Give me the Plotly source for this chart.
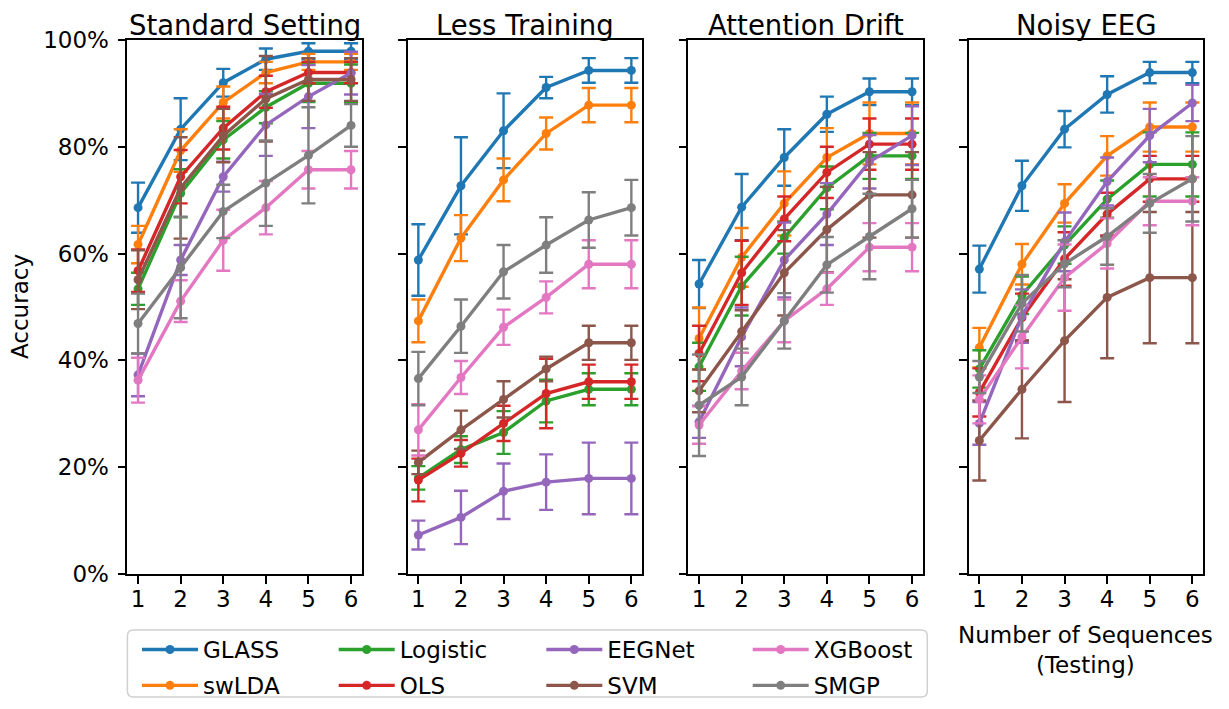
import plotly.graph_objects as go

# ---------------- data ----------------
sequences = [1, 2, 3, 4, 5, 6]
panel_titles = ["Standard Setting", "Less Training", "Attention Drift", "Noisy EEG"]
methods = ["GLASS", "swLDA", "Logistic", "OLS", "EEGNet", "SVM", "XGBoost", "SMGP"]
y_tick_vals = [0, 20, 40, 60, 80, 100]
y_tick_text = ["0%", "20%", "40%", "60%", "80%", "100%"]

# Standard Setting
std_GLASS = [68.6, 83.3, 92.0, 96.4, 97.9, 97.9]
std_GLASS_err = [4.7, 5.8, 2.6, 2.0, 1.5, 1.5]
std_swLDA = [61.7, 79.3, 88.3, 93.9, 95.9, 95.9]
std_swLDA_err = [3.5, 4.0, 3.0, 2.0, 1.5, 1.5]
std_Logistic = [53.4, 71.3, 81.3, 87.4, 91.9, 91.9]
std_Logistic_err = [3.0, 4.5, 3.5, 3.0, 3.5, 3.5]
std_OLS = [56.8, 74.4, 83.5, 90.3, 93.9, 93.9]
std_OLS_err = [4.0, 5.0, 4.0, 3.0, 2.0, 2.0]
std_EEGNet = [37.3, 58.8, 74.4, 84.1, 89.4, 93.8]
std_EEGNet_err = [4.0, 2.8, 2.8, 5.8, 5.9, 4.0]
std_SVM = [55.1, 72.3, 82.1, 89.0, 92.6, 92.6]
std_SVM_err = [5.5, 9.5, 5.0, 8.0, 4.0, 4.0]
std_XGBoost = [36.3, 51.1, 62.5, 68.6, 75.7, 75.7]
std_XGBoost_err = [4.2, 3.9, 5.7, 5.0, 3.5, 3.5]
std_SMGP = [46.9, 57.4, 67.9, 73.2, 78.4, 84.0]
std_SMGP_err = [5.6, 9.5, 5.0, 8.0, 9.0, 4.0]

# Less Training
less_GLASS = [58.8, 72.7, 83.0, 91.1, 94.3, 94.3]
less_GLASS_err = [6.7, 9.1, 7.0, 2.0, 2.3, 2.3]
less_swLDA = [47.4, 62.9, 73.8, 82.5, 87.8, 87.8]
less_swLDA_err = [4.0, 4.3, 4.0, 3.0, 3.2, 3.2]
less_Logistic = [18.0, 23.3, 26.5, 32.4, 34.6, 34.6]
less_Logistic_err = [2.2, 2.5, 4.0, 4.0, 3.0, 3.0]
less_OLS = [17.6, 22.6, 28.2, 33.8, 36.0, 36.0]
less_OLS_err = [4.0, 2.5, 3.3, 6.5, 3.2, 3.2]
less_EEGNet = [7.3, 10.6, 15.5, 17.2, 17.9, 17.9]
less_EEGNet_err = [2.7, 5.0, 5.2, 5.2, 6.7, 6.7]
less_SVM = [20.9, 27.0, 32.7, 38.4, 43.3, 43.3]
less_SVM_err = [2.2, 3.6, 3.4, 2.3, 3.2, 3.2]
less_XGBoost = [27.0, 36.8, 46.2, 51.8, 58.0, 58.0]
less_XGBoost_err = [4.8, 3.1, 3.3, 3.0, 4.5, 4.5]
less_SMGP = [36.6, 46.4, 56.6, 61.6, 66.3, 68.6]
less_SMGP_err = [5.0, 5.0, 5.0, 5.2, 5.2, 5.2]

# Attention Drift
drift_GLASS = [54.3, 68.7, 78.0, 86.1, 90.3, 90.3]
drift_GLASS_err = [4.5, 6.2, 5.3, 3.3, 2.5, 2.5]
drift_swLDA = [44.1, 59.3, 69.4, 78.0, 82.5, 82.5]
drift_swLDA_err = [5.8, 5.5, 6.0, 5.5, 5.8, 5.8]
drift_Logistic = [38.8, 53.9, 63.0, 72.3, 78.3, 78.3]
drift_Logistic_err = [4.5, 5.5, 3.0, 4.0, 4.3, 4.3]
drift_OLS = [41.3, 56.4, 66.5, 75.2, 80.5, 80.5]
drift_OLS_err = [5.2, 6.0, 4.2, 4.8, 4.8, 4.8]
drift_EEGNet = [28.5, 44.4, 58.8, 67.4, 77.2, 82.1]
drift_EEGNet_err = [3.0, 5.5, 7.0, 5.8, 5.0, 5.5]
drift_SVM = [34.3, 45.4, 56.4, 64.5, 71.0, 71.0]
drift_SVM_err = [4.0, 4.0, 8.0, 8.0, 8.0, 8.0]
drift_XGBoost = [27.9, 38.0, 47.4, 53.4, 61.2, 61.2]
drift_XGBoost_err = [3.5, 3.4, 4.0, 3.0, 4.5, 4.5]
drift_SMGP = [31.6, 36.9, 47.4, 57.9, 63.2, 68.4]
drift_SMGP_err = [9.5, 5.3, 5.2, 5.2, 8.0, 5.4]

# Noisy EEG
noisy_GLASS = [57.1, 72.7, 83.3, 89.8, 93.9, 93.9]
noisy_GLASS_err = [4.4, 4.7, 3.4, 3.4, 2.0, 2.0]
noisy_swLDA = [42.4, 58.0, 69.4, 78.3, 83.7, 83.7]
noisy_swLDA_err = [3.7, 3.8, 3.6, 3.7, 4.6, 4.6]
noisy_Logistic = [38.4, 52.2, 61.6, 70.2, 76.7, 76.7]
noisy_Logistic_err = [3.5, 3.5, 3.5, 3.5, 6.0, 6.0]
noisy_OLS = [34.0, 48.0, 59.0, 67.4, 74.0, 74.0]
noisy_OLS_err = [4.5, 4.5, 5.0, 4.0, 4.3, 4.3]
noisy_EEGNet = [28.2, 48.3, 62.2, 73.5, 82.1, 88.2]
noisy_EEGNet_err = [4.0, 5.0, 5.5, 4.5, 5.0, 3.4]
noisy_SVM = [25.0, 34.6, 43.7, 51.8, 55.5, 55.5]
noisy_SVM_err = [7.5, 9.2, 11.5, 11.4, 12.3, 12.3]
noisy_XGBoost = [32.7, 44.4, 55.5, 61.9, 69.8, 69.8]
noisy_XGBoost_err = [4.5, 5.9, 6.2, 4.7, 4.5, 4.5]
noisy_SMGP = [36.9, 50.7, 58.1, 63.2, 69.4, 74.0]
noisy_SMGP_err = [3.0, 5.3, 4.4, 5.3, 5.5, 8.0]

# ---------------- assemble ----------------
g = globals()
prefixes = ["std", "less", "drift", "noisy"]
means = [[g[f"{p}_{m}"] for m in methods] for p in prefixes]
errs = [[g[f"{p}_{m}_err"] for m in methods] for p in prefixes]

colors = {
    "GLASS": "#1f77b4", "swLDA": "#ff7f0e", "Logistic": "#2ca02c", "OLS": "#d62728",
    "EEGNet": "#9467bd", "SVM": "#8c564b", "XGBoost": "#e377c2", "SMGP": "#7f7f7f",
}
legend_of = {
    "GLASS": "legend", "swLDA": "legend", "Logistic": "legend2", "OLS": "legend2",
    "EEGNet": "legend3", "SVM": "legend3", "XGBoost": "legend4", "SMGP": "legend4",
}

# the page body has an 8px margin; layout positions below are given in window pixels
OFF = 8
WIN_W, WIN_H = 1229, 709
W, H = WIN_W - 2 * OFF, WIN_H - 2 * OFF
FONT = "DejaVu Sans"
panel_px = [(127.4, 361.7), (407.7, 642.0), (688.4, 922.7), (968.7, 1203.0)]
y_top_px, y_bot_px = 40, 574


def px_x(v):
    return (v - OFF) / W


def px_y(v):
    return 1 - (v - OFF) / H


fig = go.Figure()
for pi in range(4):
    ax = "" if pi == 0 else str(pi + 1)
    for mi, m in enumerate(methods):
        fig.add_trace(go.Scatter(
            x=sequences, y=means[pi][mi], name=m,
            mode="lines+markers",
            line=dict(color=colors[m], width=3.4),
            marker=dict(color=colors[m], size=9),
            error_y=dict(type="data", array=errs[pi][mi], visible=True,
                         color=colors[m], thickness=2.4, width=7),
            xaxis="x" + ax, yaxis="y" + ax,
            legend=legend_of[m], legendgroup=m,
            showlegend=(pi == 0),
        ))

layout = dict(
    width=W, height=H,
    margin=dict(l=0, r=0, t=0, b=0, autoexpand=False),
    plot_bgcolor="white", paper_bgcolor="white",
    font=dict(family=FONT, size=23, color="black"),
)
for pi in range(4):
    ax = "" if pi == 0 else str(pi + 1)
    l, r = panel_px[pi]
    layout["xaxis" + ax] = dict(
        domain=[px_x(l), px_x(r)], anchor="y" + ax,
        range=[0.75, 6.25], tickvals=sequences,
        ticks="outside", ticklen=8, tickwidth=1.8, tickcolor="black",
        ticklabelstandoff=-5, automargin=False,
        showline=True, linewidth=1.8, linecolor="black", mirror=True,
        showgrid=False, zeroline=False,
        tickfont=dict(family=FONT, size=23, color="black"),
    )
    layout["yaxis" + ax] = dict(
        domain=[px_y(y_bot_px), px_y(y_top_px)], anchor="x" + ax,
        range=[0, 100], tickvals=y_tick_vals, ticktext=y_tick_text,
        showticklabels=(pi == 0),
        ticks="outside", ticklen=8, tickwidth=1.8, tickcolor="black",
        ticklabelstandoff=4, automargin=False,
        showline=True, linewidth=1.8, linecolor="black", mirror=True,
        showgrid=False, zeroline=False,
        tickfont=dict(family=FONT, size=23, color="black"),
    )

legend_cols_px = [137, 333.7, 541.3, 747.7]
for li, name in enumerate(["legend", "legend2", "legend3", "legend4"]):
    layout[name] = dict(
        x=px_x(legend_cols_px[li]), xanchor="left",
        y=px_y(628), yanchor="top",
        orientation="v", traceorder="grouped", tracegroupgap=3,
        bgcolor="rgba(0,0,0,0)", borderwidth=0,
        itemwidth=56,
        font=dict(family=FONT, size=23, color="black"),
    )

annotations = []
for pi, t in enumerate(panel_titles):
    l, r = panel_px[pi]
    annotations.append(dict(
        text=t, x=px_x((l + r) / 2), y=px_y(8.5), xref="paper", yref="paper",
        xanchor="center", yanchor="top", showarrow=False, borderpad=0,
        font=dict(family=FONT, size=27.5, color="black"),
    ))
annotations.append(dict(
    text="Accuracy", x=px_x(20), y=px_y((y_top_px + y_bot_px) / 2),
    xref="paper", yref="paper", textangle=-90, xanchor="center", yanchor="middle",
    showarrow=False, font=dict(family=FONT, size=23, color="black"),
))
annotations.append(dict(
    text="Number of Sequences<br>(Testing)", x=px_x(sum(panel_px[3]) / 2), y=px_y(649.5),
    xref="paper", yref="paper", xanchor="center", yanchor="middle",
    showarrow=False, font=dict(family=FONT, size=23, color="black"),
))
layout["annotations"] = annotations

# rounded legend frame
x0, x1, yt, yb, rad = 127.4, 927.3, 630, 697, 6
rx, ry = rad / W, rad / H
X0, X1, YT, YB = px_x(x0), px_x(x1), px_y(yt), px_y(yb)
path = (f"M {X0+rx},{YT} L {X1-rx},{YT} Q {X1},{YT} {X1},{YT-ry} "
        f"L {X1},{YB+ry} Q {X1},{YB} {X1-rx},{YB} L {X0+rx},{YB} "
        f"Q {X0},{YB} {X0},{YB+ry} L {X0},{YT-ry} Q {X0},{YT} {X0+rx},{YT} Z")
layout["shapes"] = [dict(type="path", path=path, xref="paper", yref="paper",
                         line=dict(color="#d0d0d0", width=1.5), layer="below")]

fig.update_layout(**layout)
fig.write_html("out.html")
